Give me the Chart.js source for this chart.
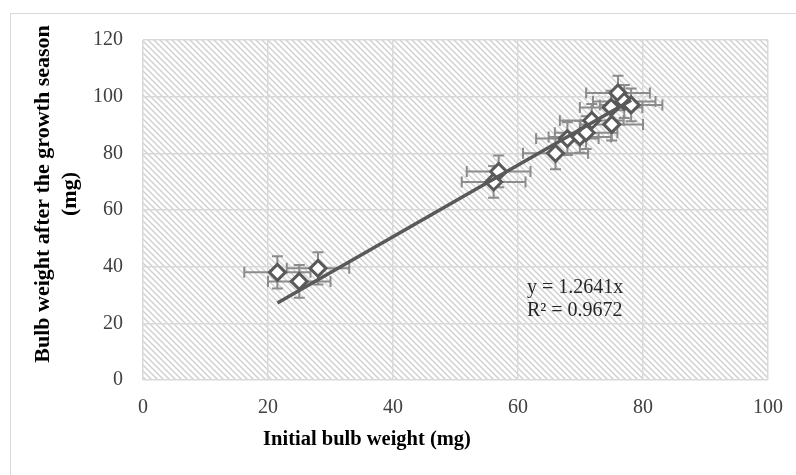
<!DOCTYPE html>
<html>
<head>
<meta charset="utf-8">
<script src="https://cdn.jsdelivr.net/npm/chart.js@4.4.1/dist/chart.umd.min.js"></script>
<style>
  html, body { margin: 0; padding: 0; background: #fff; }
  #wrap { position: relative; width: 796px; height: 475px; overflow: hidden; }
  #frame { position: absolute; left: 10px; top: 13px; width: 820px; height: 520px; border: 1.5px solid #d9d9d9; box-sizing: border-box; }
  #bulbChart { position: absolute; left: 0; top: 0; }
</style>
</head>
<body>
<div id="wrap">
  <div id="frame"></div>
  <canvas id="bulbChart" width="796" height="475"></canvas>
</div>
<script>
// Berat umbi awal (mg) dan setelah musim tanam (mg)
const initialWeight = [21.5, 25.0, 28.0, 56.1, 56.9, 66.0, 67.9, 69.9, 70.9, 71.8, 75.0, 74.9, 76.0, 77.0, 78.1];
const finalWeight   = [38.0, 34.8, 39.4, 69.9, 73.6, 80.0, 85.2, 85.8, 87.3, 91.6, 90.2, 96.2, 101.3, 98.3, 97.1];

// Error bar (± mg)
const initialErr = [5.3, 5.0, 5.0, 5.1, 5.1, 5.2, 5.0, 5.0, 5.0, 5.1, 5.0, 5.0, 5.1, 5.0, 5.0];
const finalErr   = [5.7, 5.8, 5.7, 5.6, 5.6, 5.6, 5.8, 5.6, 5.8, 5.8, 5.7, 5.9, 6.1, 5.8, 5.8];

// Garis tren yang dibaca dari gambar
const trendX = [21.5, 78.1];
const trendY = [27.2, 98.7];

const xTicks = [0, 20, 40, 60, 80, 100];
const yTicks = [0, 20, 40, 60, 80, 100, 120];

const xTitle = 'Initial bulb weight (mg)';
const yTitle = ['Bulb weight after the growth season', '(mg)'];
const equationLines = ['y = 1.2641x', 'R\u00b2 = 0.9672'];

const SERIF = '"Liberation Serif", "Times New Roman", serif';

// Pola arsir diagonal untuk area plot
const makeHatch = (ctx) => {
    const tile = document.createElement('canvas');
    tile.width = 6;
    tile.height = 6;
    const t = tile.getContext('2d');
    t.strokeStyle = '#cfcfcf';
    t.lineWidth = 1.4;
    t.beginPath();
    t.moveTo(-1, -1); t.lineTo(7, 7);
    t.moveTo(5, -1); t.lineTo(7, 1);
    t.moveTo(-1, 5); t.lineTo(1, 7);
    t.stroke();
    return ctx.createPattern(tile, 'repeat');
};

const hatchPlugin = {
    id: 'hatch',
    beforeDraw(chart) {
        const { ctx, chartArea: a } = chart;
        ctx.save();
        ctx.fillStyle = makeHatch(ctx);
        ctx.fillRect(a.left, a.top, a.right - a.left, a.bottom - a.top);
        ctx.restore();
    }
};

// Error bar horizontal dan vertikal
const errorBarPlugin = {
    id: 'errorBars',
    beforeDatasetsDraw(chart) {
        const { ctx, scales: { x, y } } = chart;
        const cap = 5.5;
        ctx.save();
        ctx.strokeStyle = '#8c8c8c';
        ctx.lineWidth = 2;
        ctx.beginPath();
        initialWeight.forEach((xv, i) => {
            const px = x.getPixelForValue(xv);
            const py = y.getPixelForValue(finalWeight[i]);
            const x1 = x.getPixelForValue(xv - initialErr[i]);
            const x2 = x.getPixelForValue(xv + initialErr[i]);
            const y1 = y.getPixelForValue(finalWeight[i] + finalErr[i]);
            const y2 = y.getPixelForValue(finalWeight[i] - finalErr[i]);
            ctx.moveTo(x1, py); ctx.lineTo(x2, py);
            ctx.moveTo(x1, py - cap); ctx.lineTo(x1, py + cap);
            ctx.moveTo(x2, py - cap); ctx.lineTo(x2, py + cap);
            ctx.moveTo(px, y1); ctx.lineTo(px, y2);
            ctx.moveTo(px - cap, y1); ctx.lineTo(px + cap, y1);
            ctx.moveTo(px - cap, y2); ctx.lineTo(px + cap, y2);
        });
        ctx.stroke();
        ctx.restore();
    }
};

// Judul sumbu dan persamaan
const textPlugin = {
    id: 'texts',
    afterDraw(chart) {
        const { ctx } = chart;
        ctx.save();
        ctx.fillStyle = '#000';
        ctx.font = 'bold 20.5px ' + SERIF;
        ctx.textAlign = 'center';
        ctx.textBaseline = 'alphabetic';
        ctx.fillText(xTitle, 367, 445);

        ctx.font = 'bold 22px ' + SERIF;
        ctx.translate(0, 194);
        ctx.rotate(-Math.PI / 2);
        ctx.fillText(yTitle[0], 0, 49);
        ctx.fillText(yTitle[1], 0, 76);
        ctx.restore();

        ctx.save();
        ctx.fillStyle = '#262626';
        ctx.font = '20px ' + SERIF;
        ctx.textAlign = 'left';
        ctx.fillText(equationLines[0], 527, 293);
        ctx.fillText(equationLines[1], 527, 316);
        ctx.restore();
    }
};

const config = {
    data: {
        datasets: [{
            type: 'line',
            data: trendX.map((v, i) => ({ x: v, y: trendY[i] })),
            borderColor: '#595959',
            borderWidth: 3.5,
            pointRadius: 0,
            order: 0
        }, {
            type: 'scatter',
            data: initialWeight.map((v, i) => ({ x: v, y: finalWeight[i] })),
            pointStyle: 'rectRot',
            pointRadius: 8,
            backgroundColor: '#ffffff',
            borderColor: '#595959',
            borderWidth: 3,
            order: 1
        }]
    },
    options: {
        responsive: false,
        animation: false,
        devicePixelRatio: 1,
        layout: { padding: { top: 40, right: 28, left: 0, bottom: 0 } },
        plugins: {
            legend: { display: false },
            tooltip: { enabled: false }
        },
        scales: {
            x: {
                type: 'linear',
                min: 0,
                max: 100,
                afterFit: (s) => { s.height = 95; s.paddingLeft = 0; s.paddingRight = 0; },
                afterBuildTicks: (s) => { s.ticks = xTicks.map(v => ({ value: v })); },
                grid: { color: '#d9d9d9', lineWidth: 1.5, drawTicks: false },
                border: { display: false },
                ticks: {
                    padding: 16,
                    color: '#404040',
                    font: { family: SERIF, size: 20 }
                }
            },
            y: {
                type: 'linear',
                min: 0,
                max: 120,
                afterFit: (s) => { s.width = 143; s.paddingTop = 0; s.paddingBottom = 0; },
                afterBuildTicks: (s) => { s.ticks = yTicks.map(v => ({ value: v })); },
                grid: { color: '#d9d9d9', lineWidth: 1.5, drawTicks: false },
                border: { display: false },
                ticks: {
                    padding: 20,
                    color: '#404040',
                    font: { family: SERIF, size: 20 }
                }
            }
        }
    },
    plugins: [hatchPlugin, errorBarPlugin, textPlugin]
};

let bulbChart;
window.addEventListener('load', () => {
    const ctx = document.getElementById('bulbChart').getContext('2d');
    bulbChart = new Chart(ctx, config);
});
</script>
</body>
</html>
